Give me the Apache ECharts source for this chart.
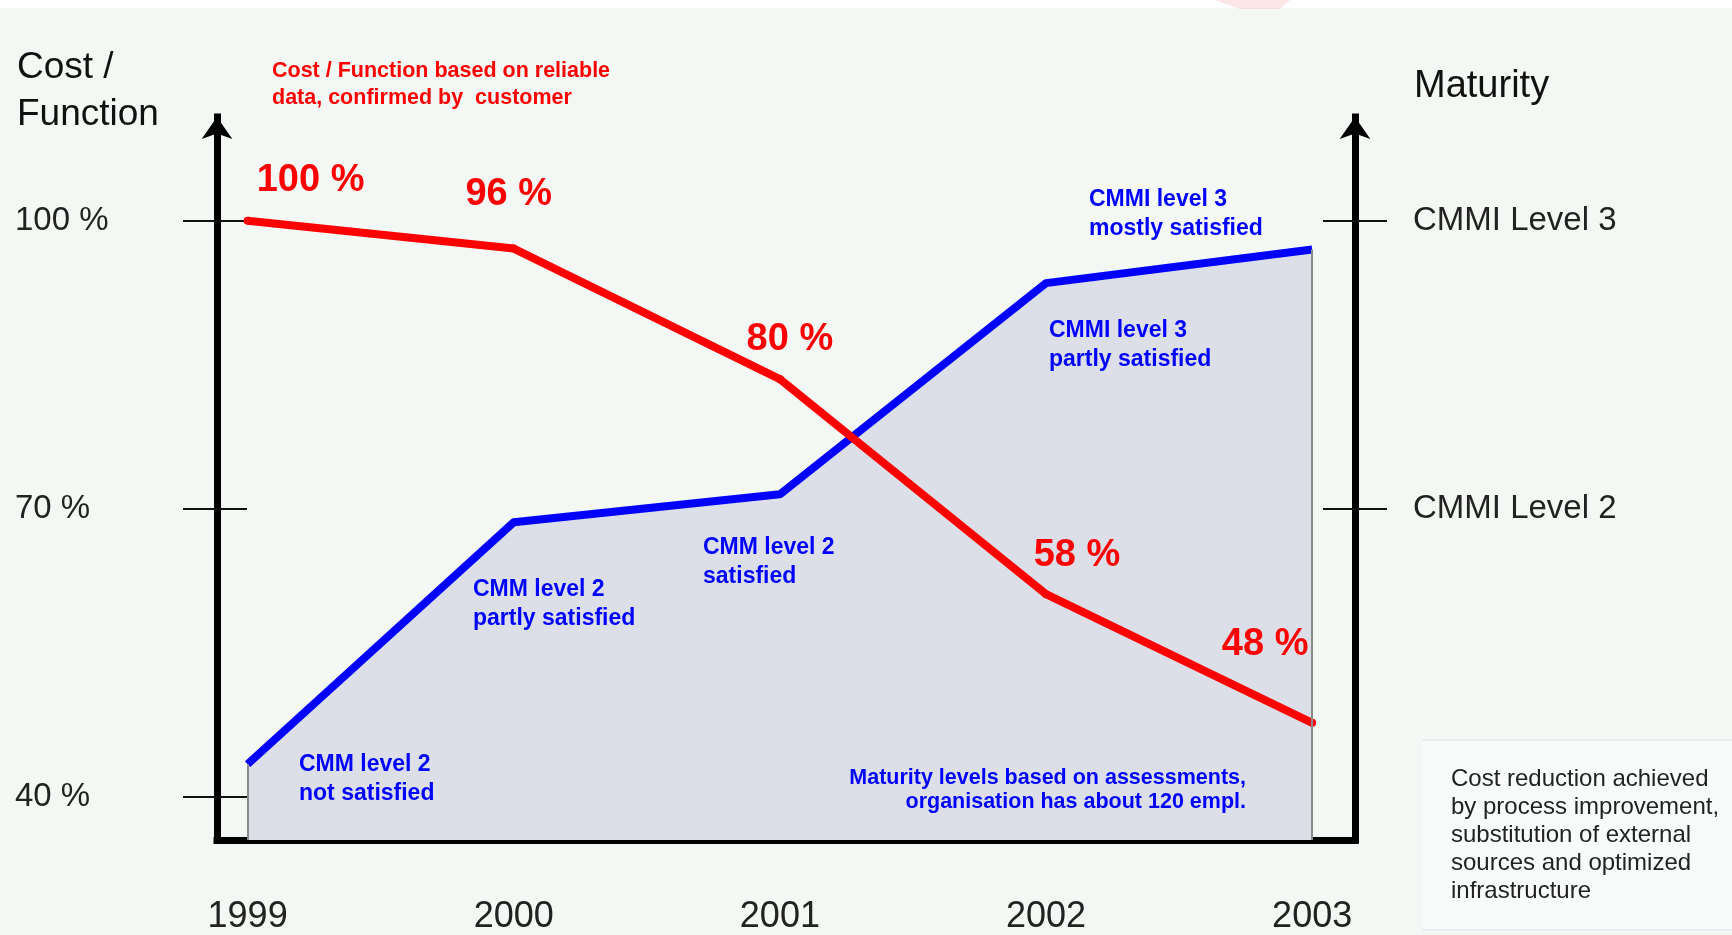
<!DOCTYPE html>
<html>
<head>
<meta charset="utf-8">
<title>Cost / Function and Maturity</title>
<script src="https://cdn.jsdelivr.net/npm/echarts@6/dist/echarts.min.js"></script>
<style>
html, body { margin: 0; padding: 0; background: #f4f8f5; }
#chart { width: 1732px; height: 935px; }
</style>
</head>
<body>
<div id="chart"></div>
<script>
var years = [1999, 2000, 2001, 2002, 2003];
// cost per function as drawn, % of 1999
var costValues = [100, 97.1, 83.5, 61.1, 47.7];
var costLabels = ['100 %', '96 %', '80 %', '58 %', '48 %'];
// maturity curve, read on the same vertical scale
var maturityValues = [43.4, 68.6, 71.5, 93.5, 97.0];
var costTicks = [40, 70, 100];
var costTickLabels = ['40 %', '70 %', '100 %'];
var levelTicks = [70, 100];
var levelNames = ['CMMI Level 2', 'CMMI Level 3'];

var Y_MIN = 35.5, Y_MAX = 110.8;
var X_MIN = 1998.885, X_MAX = 2003.161;
var FONT = "'Liberation Sans', Arial, sans-serif";

// red label centre relative to its point, px
var costLabelOffsets = [[63, -40], [-5, -54], [10, -40], [31, -39], [-47, -78]];

function label(text, x, y, font, color, lineHeight, align) {
  return {
    type: 'text', x: x, y: y, z: 100, silent: true,
    style: {
      text: text, font: font, fill: color, lineHeight: lineHeight,
      align: align || 'left', textAlign: align || 'left',
      verticalAlign: 'top', textVerticalAlign: 'top'
    }
  };
}

function yAxisBase(pos, inside, len, ticks) {
  return {
    type: 'value', position: pos, min: Y_MIN, max: Y_MAX,
    splitLine: { show: false },
    axisLine: { show: false },
    axisTick: { show: true, inside: inside, length: len, customValues: ticks,
      lineStyle: { color: '#111', width: 2 } },
    axisLabel: { show: false }
  };
}

var chart = echarts.init(document.getElementById('chart'));

var leftAxis = yAxisBase('left', false, 34, costTicks);
leftAxis.axisLine = { show: true, symbol: ['none', 'arrow'], symbolSize: [23, 22],
  lineStyle: { color: '#000', width: 7, cap: 'square' } };
leftAxis.axisLabel = {
  show: true, customValues: costTicks, align: 'left', margin: 202,
  fontFamily: FONT, fontSize: 33, color: '#222',
  formatter: function (v) { return costTickLabels[costTicks.indexOf(v)]; }
};

var rightAxis = yAxisBase('right', false, 32, levelTicks);
rightAxis.axisLine = { show: true, symbol: ['none', 'arrow'], symbolSize: [23, 22],
  lineStyle: { color: '#000', width: 7, cap: 'square' } };
rightAxis.axisLabel = {
  show: true, customValues: levelTicks, align: 'left', margin: 58,
  fontFamily: FONT, fontSize: 33, color: '#222',
  formatter: function (v) { return levelNames[levelTicks.indexOf(v)]; }
};

var edge = function (i) {
  return [{ coord: [years[i], Y_MIN] }, { coord: [years[i], maturityValues[i]] }];
};

chart.setOption({
  animation: false,
  backgroundColor: '#f4f8f5',
  grid: { left: 217, right: 377, top: 117, bottom: 94.5 },
  xAxis: {
    type: 'value', min: X_MIN, max: X_MAX,
    splitLine: { show: false },
    axisLine: { show: true, lineStyle: { color: '#000', width: 7, cap: 'square' } },
    axisTick: { show: false },
    axisLabel: {
      customValues: years, margin: 59,
      fontFamily: FONT, fontSize: 36, color: '#222',
      formatter: function (v) { return String(v); }
    }
  },
  yAxis: [
    leftAxis,
    rightAxis,
    yAxisBase('left', true, 30, costTicks),
    yAxisBase('right', true, 32, levelTicks)
  ],
  series: [
    {
      name: 'Maturity',
      type: 'line',
      data: maturityValues.map(function (v, i) { return [years[i], v]; }),
      showSymbol: false,
      lineStyle: { color: '#0000ff', width: 8, join: 'round' },
      areaStyle: { color: '#dcdfe7', opacity: 1, origin: 'start' },
      markLine: {
        silent: true, symbol: ['none', 'none'],
        label: { show: false },
        lineStyle: { color: '#8a8a8a', width: 2, type: 'solid' },
        data: [edge(0), edge(years.length - 1)]
      }
    },
    {
      name: 'Cost / Function',
      type: 'line',
      data: costValues.map(function (v, i) {
        return { value: [years[i], v], label: { offset: costLabelOffsets[i] } };
      }),
      symbol: 'circle',
      symbolSize: 8,
      itemStyle: { color: '#ff0000' },
      lineStyle: { color: '#ff0000', width: 8, join: 'round' },
      label: {
        show: true, position: 'inside',
        fontFamily: FONT, fontSize: 38, fontWeight: 'bold', color: '#ff0000',
        formatter: function (p) { return costLabels[p.dataIndex]; }
      }
    }
  ],
  graphic: [
    { type: 'rect', silent: true, shape: { x: 0, y: 0, width: 1732, height: 8 }, style: { fill: '#ffffff' } },
    { type: 'polygon', silent: true, shape: { points: [[1215, 0], [1290, 0], [1280, 9], [1240, 9]] },
      style: { fill: 'rgba(240,90,90,0.15)' } },
    { type: 'rect', silent: true, shape: { x: 1422, y: 740, width: 310, height: 190 },
      style: { fill: '#f8fbf9' } },
    { type: 'line', silent: true, shape: { x1: 1422, y1: 740, x2: 1732, y2: 740 },
      style: { stroke: '#e8edf1', lineWidth: 2 } },
    { type: 'line', silent: true, shape: { x1: 1422, y1: 930, x2: 1732, y2: 930 },
      style: { stroke: '#e8edf1', lineWidth: 2 } },

    label('Cost /\nFunction', 17, 44, '37px ' + FONT, '#111', 47),
    label('Maturity', 1414, 68, '38px ' + FONT, '#111', 38),
    label('Cost / Function based on reliable\ndata, confirmed by  customer', 272, 57,
      'bold 21.5px ' + FONT, '#ff0000', 27.5),

    label('CMM level 2\nnot satisfied', 299, 750, 'bold 23px ' + FONT, '#0000ff', 29),
    label('CMM level 2\npartly satisfied', 473, 575.5, 'bold 23px ' + FONT, '#0000ff', 29),
    label('CMM level 2\nsatisfied', 703, 533.5, 'bold 23px ' + FONT, '#0000ff', 29),
    label('CMMI level 3\npartly satisfied', 1049, 316.5, 'bold 23px ' + FONT, '#0000ff', 29),
    label('CMMI level 3\nmostly satisfied', 1089, 185.5, 'bold 23px ' + FONT, '#0000ff', 29),
    label('Maturity levels based on assessments,\norganisation has about 120 empl.', 1246, 766,
      'bold 21.5px ' + FONT, '#0000ff', 24, 'right'),

    label('Cost reduction achieved\nby process improvement,\nsubstitution of external\nsources and optimized\ninfrastructure',
      1451, 765, '24px ' + FONT, '#222', 28)
  ]
});
</script>
</body>
</html>
